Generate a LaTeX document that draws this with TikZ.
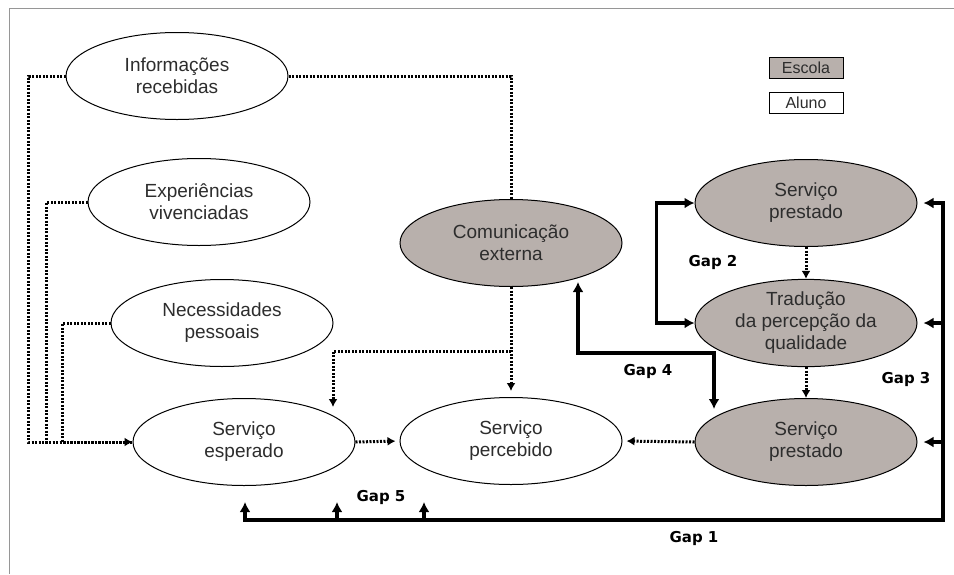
\documentclass[tikz,border=0pt]{standalone}
\usepackage{fontspec}
\setmainfont{Liberation Sans}
\newfontfamily\gapfont{DejaVu Sans}
\usetikzlibrary{shapes.geometric,arrows.meta}
\definecolor{escolafill}{RGB}{184,176,172}
\definecolor{moldura}{RGB}{150,150,150}
\definecolor{texto}{RGB}{45,45,45}
\tikzset{
    balao/.style={
        ellipse, draw, line width=1pt, inner sep=0pt, text=texto,
        minimum width=222pt, minimum height=87pt, align=center,
        font=\fontsize{19}{22}\selectfont
    },
    escola/.style={balao, fill=escolafill},
    aluno/.style={balao, fill=white},
    pontos/.style={line width=3pt, dash pattern=on 2pt off 1.5pt},
    pontoseta/.style={pontos, -{Latex[length=8pt,width=9pt]}},
    gap/.style={line width=3.5pt, line join=miter, {Latex[length=10pt,width=11pt]}-{Latex[length=10pt,width=11pt]}},
    gapup/.style={line width=3.5pt, -{Latex[length=10pt,width=11pt]}},
    gaplab/.style={font=\gapfont\bfseries\fontsize{15}{18}\selectfont},
    legenda/.style={
        draw, line width=1pt, inner sep=0pt, text=texto,
        minimum width=74pt, minimum height=21pt,
        font=\fontsize{16}{18}\selectfont
    }
}

\begin{document}
\begin{tikzpicture}[x=1pt,y=-1pt]

% --- page and frame ---
    \useasboundingbox (0,0) rectangle (954,574);
    \draw[moldura, line width=1pt] (954,8) -- (9,8) -- (9,574);

% --- legend ---
    \node[legenda, fill=escolafill] (legEscola) at (806,68) {Escola};
    \node[legenda, fill=white]      (legAluno)  at (806,103) {Aluno};

% --- student side ---
    \node[aluno] (info)   at (177,76)  {Informações\\recebidas};
    \node[aluno] (exper)  at (199,202) {Experiências\\vivenciadas};
    \node[aluno] (neces)  at (222,323) {Necessidades\\pessoais};
    \node[aluno] (esper)  at (244,442) {Serviço\\esperado};
    \node[aluno] (perceb) at (511,441) {Serviço\\percebido};

% --- school side ---
    \node[escola] (comun)  at (511,243) {Comunicação\\externa};
    \node[escola] (prestA) at (806,203) {Serviço\\prestado};
    \node[escola] (trad)   at (806,323) {Tradução\\da percepção da\\qualidade};
    \node[escola] (prestB) at (806,442) {Serviço\\prestado};

% helper points
    \coordinate (ramo)  at (511,351);
    \coordinate (espTopo) at (333,407);
    \coordinate (g4a)   at (578,282);
    \coordinate (g4b)   at (714,409);
    \coordinate (canto) at (943,520);
    \coordinate (g1a)   at (245,502);
    \coordinate (g1b)   at (337,502);
    \coordinate (g1c)   at (424,502);

% --- dotted influences ---
    \draw[pontoseta] (info.west)  -- ++(-37,0) |- (esper.west);
    \draw[pontos]    (exper.west) -- ++(-41,0) |- (esper.west);
    \draw[pontos]    (neces.west) -- ++(-48,0) |- (esper.west);
    \draw[pontos]    (info.east) -| (comun.north);
    \draw[pontoseta, shorten >=6pt] (comun.south) -- (perceb.north);
    \draw[pontoseta] (ramo) -| (espTopo);
    \draw[pontoseta, shorten >=4pt] (esper.east) -- (perceb.west);
    \draw[pontoseta, shorten >=4pt] (prestB.west) -- (perceb.east);
    \draw[pontoseta] (prestA.south) -- (trad.north);
    \draw[pontoseta] (trad.south) -- (prestB.north);

% --- gaps ---
    \draw[gap] (prestA.west) -- ++(-38,0) |- (trad.west);
    \draw[gap] (g4a) -- ++(0,71) -| (g4b);
    \draw[gap, shorten <=6pt] (prestA.east) -| (canto) -| (g1a);
    \draw[gapup, shorten >=6pt] (canto |- trad.east) -- (trad.east);
    \draw[gapup, shorten >=6pt] (canto |- prestB.east) -- (prestB.east);
    \draw[gapup] (g1b |- canto) -- (g1b);
    \draw[gapup] (g1c |- canto) -- (g1c);

% gap labels
    \node[gaplab] (gap1) at (694,538) {Gap 1};
    \node[gaplab] (gap2) at (713,262) {Gap 2};
    \node[gaplab] (gap3) at (906,379) {Gap 3};
    \node[gaplab] (gap4) at (648,371) {Gap 4};
    \node[gaplab] (gap5) at (381,497) {Gap 5};

\end{tikzpicture}
\end{document}
